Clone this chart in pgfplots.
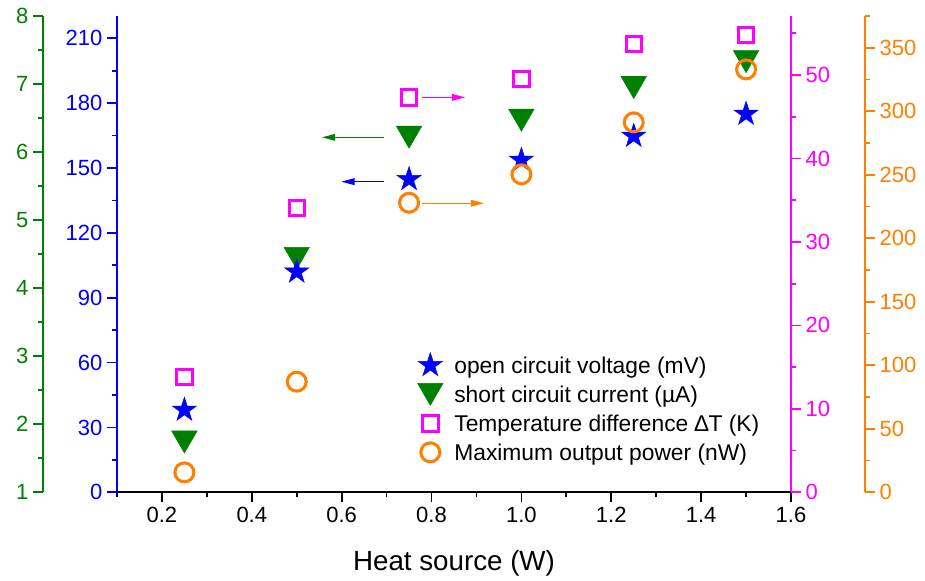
\documentclass[border=0pt]{standalone}
\usepackage{fontspec}
\setmainfont{Liberation Sans}
\usepackage{pgfplots}
\pgfplotsset{compat=1.18}
\usetikzlibrary{arrows.meta}
\definecolor{mgreen}{RGB}{0,128,0}
\definecolor{morange}{RGB}{255,128,0}
\definecolor{mmag}{RGB}{255,0,255}
\definecolor{mblue}{RGB}{0,0,255}

\pgfdeclareplotmark{fstar}{%
  \pgfpathmoveto{\pgfpointpolar{90}{\pgfplotmarksize}}%
  \pgfpathlineto{\pgfpointpolar{126}{0.382\pgfplotmarksize}}%
  \pgfpathlineto{\pgfpointpolar{162}{\pgfplotmarksize}}%
  \pgfpathlineto{\pgfpointpolar{198}{0.382\pgfplotmarksize}}%
  \pgfpathlineto{\pgfpointpolar{234}{\pgfplotmarksize}}%
  \pgfpathlineto{\pgfpointpolar{270}{0.382\pgfplotmarksize}}%
  \pgfpathlineto{\pgfpointpolar{306}{\pgfplotmarksize}}%
  \pgfpathlineto{\pgfpointpolar{342}{0.382\pgfplotmarksize}}%
  \pgfpathlineto{\pgfpointpolar{18}{\pgfplotmarksize}}%
  \pgfpathlineto{\pgfpointpolar{54}{0.382\pgfplotmarksize}}%
  \pgfpathclose
  \pgfusepathqfillstroke
}
\pgfdeclareplotmark{dtri}{%
  \pgfpathmoveto{\pgfpoint{-0.866\pgfplotmarksize}{0.75\pgfplotmarksize}}%
  \pgfpathlineto{\pgfpoint{0.866\pgfplotmarksize}{0.75\pgfplotmarksize}}%
  \pgfpathlineto{\pgfpoint{0pt}{-0.75\pgfplotmarksize}}%
  \pgfpathclose
  \pgfusepathqfillstroke
}

\pgfplotsset{
  base/.style={
    at={(87.75pt,66.5pt)}, anchor=south west, scale only axis,
    width=505.5pt, height=357.2pt,
    xmin=0.1, xmax=1.6, clip=false,
    tick align=outside,
    major tick length=7.5pt, minor tick length=3.75pt,
    every tick/.append style={line width=1.3pt},
    tick label style={font=\fontsize{16.5}{19}\selectfont},
    /pgf/number format/assume math mode=true,
    axis line style={line width=1.5pt, -},
  },
}

\begin{document}
\begin{tikzpicture}
\path[use as bounding box] (0,0) rectangle (693.75pt,435.75pt);

% green axis: short circuit current
\begin{axis}[base, ymin=1, ymax=8, hide x axis, axis y line*=left,
  axis y line shift=55.5pt, y axis line style={mgreen},
  ytick={1,2,3,4,5,6,7,8}, minor ytick={1.5,2.5,3.5,4.5,5.5,6.5,7.5},
  yticklabel style={mgreen}, ytick style={mgreen}]
\addplot[only marks, mark=dtri, mark size=11pt, mgreen,
  mark options={fill=mgreen, draw=mgreen, line width=0.4pt}]
  coordinates {(0.25,1.74)(0.5,4.44)(0.75,6.22)(1.0,6.47)(1.25,6.95)(1.5,7.33)};
\end{axis}

% blue axis: open circuit voltage (main)
\begin{axis}[base, ymin=0, ymax=220.3,
  axis x line*=bottom, axis y line*=left,
  x axis line style={black}, y axis line style={mblue},
  xtick={0.2,0.4,0.6,0.8,1.0,1.2,1.4,1.6},
  minor xtick={0.1,0.3,0.5,0.7,0.9,1.1,1.3,1.5},
  xticklabel style={/pgf/number format/.cd, fixed, fixed zerofill, precision=1, /tikz/.cd},
  ytick={0,30,60,90,120,150,180,210}, minor ytick={15,45,75,105,135,165,195},
  yticklabel style={mblue}, ytick style={mblue}, xtick style={black},
  xlabel={Heat source (W)}, xlabel style={font=\fontsize{20.8}{24}\selectfont, yshift=-14pt},
  legend style={at={(0.4447,0.2868)}, anchor=north west, draw=none, fill=none,
    inner sep=0pt, row sep=0pt, column sep=0pt,
    font=\fontsize{17.1}{20}\selectfont,
    nodes={inner sep=0pt, text height=13pt, text depth=8.75pt},
    cells={anchor=base west}},
  legend image code/.code={\path[draw=none,fill=none] (0pt,0pt) -- (28pt,0pt); \draw[overlay,#1] plot coordinates {(10pt,6pt)};},
]
\addplot[only marks, mark=fstar, mark size=9.5pt, mblue,
  mark options={fill=mblue, draw=mblue, line width=0.4pt}]
  coordinates {(0.25,38.1)(0.5,102.0)(0.75,144.8)(1.0,153.7)(1.25,164.8)(1.5,175.0)};
\addlegendentry{open circuit voltage (mV)}
\addlegendimage{only marks, mark=dtri, mark size=11pt, mgreen, mark options={fill=mgreen, draw=mgreen, line width=0.4pt}}
\addlegendentry{short circuit current (µA)}
\addlegendimage{only marks, mark=square, mark size=5.8pt, mmag, mark options={draw=mmag, line width=2.25pt}}
\addlegendentry{Temperature difference ∆T (K)}
\addlegendimage{only marks, mark=o, mark size=7.1pt, morange, mark options={draw=morange, line width=2.3pt}}
\addlegendentry{Maximum output power (nW)}
\draw[mgreen, line width=1pt, -{Triangle[length=10pt,width=5pt]}] (axis cs:0.694,164.2) -- (axis cs:0.556,164.2);
\draw[mblue, line width=1pt, -{Triangle[length=10pt,width=5pt]}] (axis cs:0.694,143.7) -- (axis cs:0.599,143.7);
\draw[mmag, line width=1pt, -{Triangle[length=10pt,width=5pt]}] (axis cs:0.779,182.7) -- (axis cs:0.875,182.7);
\draw[morange, line width=1pt, -{Triangle[length=10pt,width=5pt]}] (axis cs:0.779,133.7) -- (axis cs:0.917,133.7);
\end{axis}

% magenta axis: temperature difference
\begin{axis}[base, ymin=0, ymax=57.07, hide x axis, axis y line*=right,
  y axis line style={mmag},
  ytick={0,10,20,30,40,50}, minor ytick={5,15,25,35,45,55},
  yticklabel style={mmag}, ytick style={mmag}]
\addplot[only marks, mark=square, mark size=5.8pt, mmag,
  mark options={draw=mmag, line width=2.25pt}]
  coordinates {(0.25,13.85)(0.5,34.06)(0.75,47.33)(1.0,49.52)(1.25,53.7)(1.5,54.8)};
\end{axis}

% orange axis: maximum output power
\begin{axis}[base, ymin=0, ymax=375, hide x axis, axis y line*=right,
  axis y line shift=55.5pt, y axis line style={morange},
  ytick={0,50,100,150,200,250,300,350}, minor ytick={25,75,125,175,225,275,325,375},
  yticklabel style={morange}, ytick style={morange}]
\addplot[only marks, mark=o, mark size=7.1pt, morange,
  mark options={draw=morange, line width=2.3pt}]
  coordinates {(0.25,15.7)(0.5,87.1)(0.75,228)(1.0,250.4)(1.25,291.3)(1.5,333)};
\end{axis}
\end{tikzpicture}
\end{document}
